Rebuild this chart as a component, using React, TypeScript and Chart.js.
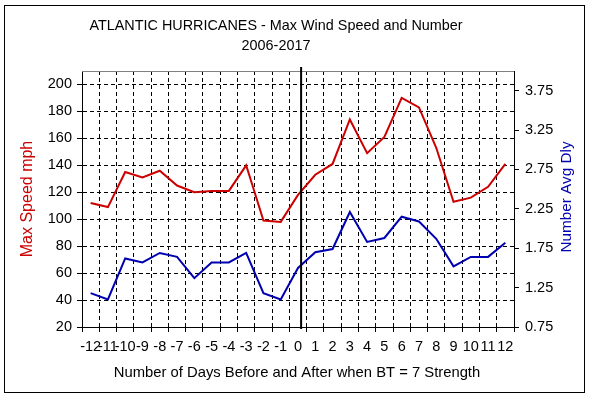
import React, { useEffect, useRef } from "react";
import { Chart, registerables } from "chart.js";

Chart.register(...registerables);

const days = ["-12","-11","-10","-9","-8","-7","-6","-5","-4","-3","-2","-1","0","1","2","3","4","5","6","7","8","9","10","11","12"];
const maxSpeed = [112, 109, 135, 131, 136, 125, 120, 121, 121, 140, 99, 98, 118, 133, 141, 174, 149, 161, 190, 183, 153, 113, 116, 124, 141];
const avgNumber = [1.18, 1.10, 1.62, 1.57, 1.69, 1.64, 1.37, 1.57, 1.57, 1.69, 1.18, 1.10, 1.50, 1.70, 1.74, 2.21, 1.83, 1.88, 2.15, 2.09, 1.87, 1.52, 1.64, 1.64, 1.82];
const speedTicks = [20, 40, 60, 80, 100, 120, 140, 160, 180, 200];
const numberTicks = [0.75, 1.25, 1.75, 2.25, 2.75, 3.25, 3.75];

const titleLines = ["ATLANTIC HURRICANES - Max Wind Speed and Number", "2006-2017"];
const xTitle = "Number of Days Before and After when BT = 7 Strength";
const leftTitle = "Max Speed mph";
const rightTitle = "Number Avg Dly";

const FONT_FAMILY = "Arial, 'Liberation Sans', sans-serif";
const TICK_SIZE = 14.5;
const RED = "#cc0000";
const BLUE = "#0000b0";

const decorPlugin = {
  id: "decor",
  beforeDraw(chart: any) {
    const ctx = chart.ctx;
    ctx.save();
    ctx.fillStyle = "#ffffff";
    ctx.fillRect(0, 0, chart.width, chart.height);
    ctx.restore();
  },
  afterDatasetsDraw(chart: any) {
    const ctx = chart.ctx;
    const xs = chart.scales.x;
    const area = chart.chartArea;
    ctx.save();
    ctx.strokeStyle = "#808080";
    ctx.lineWidth = 1;
    ctx.beginPath();
    ctx.moveTo(area.left, Math.round(area.top) + 0.5);
    ctx.lineTo(area.right, Math.round(area.top) + 0.5);
    ctx.stroke();
    const step = xs.getPixelForValue(1) - xs.getPixelForValue(0);
    const x0 = xs.getPixelForValue(days.indexOf("0")) + step * 0.18;
    ctx.strokeStyle = "#000";
    ctx.lineWidth = 2;
    ctx.beginPath();
    ctx.moveTo(x0, area.top - 4);
    ctx.lineTo(x0, area.bottom + 2);
    ctx.stroke();
    ctx.restore();
  },
  afterDraw(chart: any) {
    const ctx = chart.ctx;
    const area = chart.chartArea;
    const midY = (area.top + area.bottom) / 2;
    ctx.save();
    ctx.textAlign = "center";
    ctx.textBaseline = "alphabetic";
    ctx.fillStyle = "#000";
    ctx.font = `14.4px ${FONT_FAMILY}`;
    ctx.fillText(titleLines[0], 276, 29.5);
    ctx.fillText(titleLines[1], 276, 49.5);
    ctx.font = `14.8px ${FONT_FAMILY}`;
    ctx.fillText(xTitle, 297, 377);
    ctx.save();
    ctx.font = `16px ${FONT_FAMILY}`;
    ctx.translate(31.5, midY);
    ctx.rotate(-Math.PI / 2);
    ctx.fillStyle = RED;
    ctx.fillText(leftTitle, 0, 0);
    ctx.restore();
    ctx.save();
    ctx.font = `15.3px ${FONT_FAMILY}`;
    ctx.translate(571, midY - 2);
    ctx.rotate(-Math.PI / 2);
    ctx.fillStyle = BLUE;
    ctx.fillText(rightTitle, 0, 0);
    ctx.restore();
    ctx.strokeStyle = "#000";
    ctx.lineWidth = 1;
    ctx.strokeRect(4.5, 5.5, 580, 387);
    ctx.restore();
  },
};

export default function App() {
  const ref = useRef<HTMLCanvasElement | null>(null);
  useEffect(() => {
    if (!ref.current) return;
    const font = { family: FONT_FAMILY, size: TICK_SIZE };
    const chart = new Chart(ref.current, {
      type: "line",
      data: {
        labels: days,
        datasets: [
          {
            label: leftTitle,
            data: maxSpeed,
            borderColor: RED,
            borderWidth: 2,
            pointRadius: 0,
            tension: 0,
            yAxisID: "y",
          },
          {
            label: rightTitle,
            data: avgNumber,
            borderColor: BLUE,
            borderWidth: 2,
            pointRadius: 0,
            tension: 0,
            yAxisID: "y1",
          },
        ],
      },
      options: {
        responsive: false,
        animation: false,
        layout: { padding: { top: 71, left: 0, right: 0, bottom: 0 } },
        plugins: { legend: { display: false }, title: { display: false }, tooltip: { enabled: false } },
        scales: {
          x: {
            type: "category",
            offset: true,
            grid: { offset: true, color: "#000", lineWidth: 1, drawTicks: true, tickLength: 5, tickColor: "#000" },
            border: { display: true, color: "#000", width: 1, dash: [4, 3] },
            ticks: { autoSkip: false, maxRotation: 0, minRotation: 0, padding: 6, color: "#000", font },
            afterFit: (s: any) => { s.height = 72; },
          },
          y: {
            type: "linear",
            position: "left",
            min: 20,
            max: 210,
            afterBuildTicks: (s: any) => { s.ticks = speedTicks.map((v) => ({ value: v })); },
            afterFit: (s: any) => { s.width = 82; },
            grid: { color: "#000", lineWidth: 1, drawTicks: true, tickLength: 5, tickColor: "#000" },
            border: { display: true, color: "#000", width: 1, dash: [4, 3] },
            ticks: { color: "#000", font, padding: 5, callback: (v: any) => String(v) },
          },
          y1: {
            type: "linear",
            position: "right",
            min: 0.75,
            max: 4.0,
            afterBuildTicks: (s: any) => { s.ticks = numberTicks.map((v) => ({ value: v })); },
            afterFit: (s: any) => { s.width = 76; },
            grid: { drawOnChartArea: false, color: "#000", drawTicks: true, tickLength: 5, tickColor: "#000" },
            border: { display: true, color: "#000", width: 1 },
            ticks: { color: "#000", font, padding: 6, callback: (v: any) => Number(v).toFixed(2) },
          },
        },
      },
      plugins: [decorPlugin],
    });
    return () => chart.destroy();
  }, []);
  return (
    <div style={{ position: "absolute", left: 0, top: 0, width: 590, height: 399, background: "#fff" }}>
      <canvas ref={ref} width={590} height={399} style={{ width: 590, height: 399, display: "block" }} />
    </div>
  );
}
